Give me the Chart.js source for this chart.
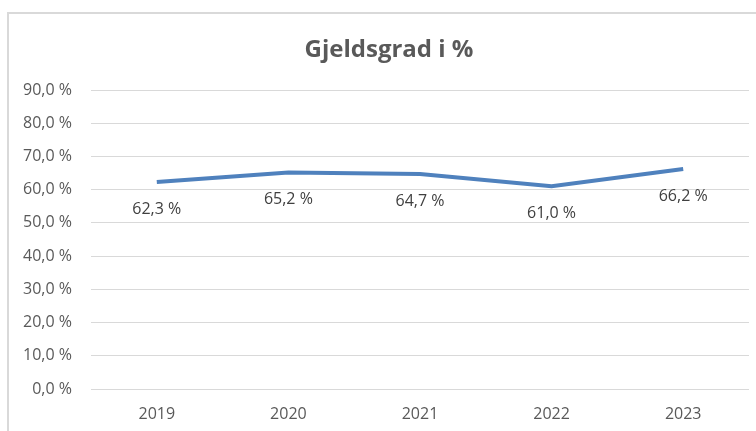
<!DOCTYPE html>
<html>
<head>
<meta charset="utf-8">
<script src="https://cdn.jsdelivr.net/npm/chart.js@4"></script>
<style>
  html, body { margin: 0; padding: 0; background: #fff; overflow: hidden; }
  #frame {
    position: absolute; left: 7px; top: 12px;
    width: 800px; height: 500px;
    border: 2px solid #d9d9d9; box-sizing: border-box;
  }
  #wrap { position: absolute; left: 0; top: 0; width: 764px; height: 431px; }
</style>
</head>
<body>
<div id="frame"></div>
<div id="wrap"><canvas id="debtChart" width="764" height="431"></canvas></div>
<script>
// Chart data
const years = ['2019', '2020', '2021', '2022', '2023'];
const debtRatio = [62.3, 65.2, 64.7, 61.0, 66.2];
const yTicks = [0, 10, 20, 30, 40, 50, 60, 70, 80, 90];
const chartTitle = 'Gjeldsgrad i %';

const fmt = v => v.toFixed(1).replace('.', ',') + '\u00a0%';

// Excel-style labels under each point + title centred on the original frame
const valueLabels = {
  id: 'valueLabels',
  afterDatasetsDraw(chart) {
    const ctx = chart.ctx;
    const meta = chart.getDatasetMeta(0);
    ctx.save();
    ctx.font = '16px "Open Sans"';
    ctx.fillStyle = '#404040';
    ctx.textAlign = 'center';
    ctx.textBaseline = 'middle';
    meta.data.forEach((pt, i) => {
      ctx.fillText(fmt(debtRatio[i]), pt.x, pt.y + 27);
    });
    ctx.font = 'bold 24px "Open Sans"';
    ctx.fillStyle = '#595959';
    ctx.textBaseline = 'alphabetic';
    ctx.fillText(chartTitle, 389, 57);
    ctx.restore();
  }
};

const ctx = document.getElementById('debtChart').getContext('2d');
new Chart(ctx, {
  type: 'line',
  data: {
    labels: years,
    datasets: [{
      data: debtRatio,
      borderColor: '#4f81bd',
      borderWidth: 4,
      pointRadius: 0,
      tension: 0,
      fill: false
    }]
  },
  options: {
    responsive: false,
    animation: false,
    layout: { padding: { left: 0, right: 15, top: 90, bottom: 0 } },
    plugins: {
      legend: { display: false },
      tooltip: { enabled: false },
      title: { display: false }
    },
    scales: {
      x: {
        offset: true,
        grid: { display: false, drawTicks: false },
        border: { display: false },
        ticks: { color: '#595959', font: { family: '"Open Sans"', size: 16 }, padding: 16 },
        afterFit(scale) { scale.height = 42; }
      },
      y: {
        min: 0,
        max: 90,
        afterBuildTicks(scale) { scale.ticks = yTicks.map(v => ({ value: v })); },
        grid: { color: '#d9d9d9', lineWidth: 1, drawTicks: false },
        border: { display: false },
        ticks: {
          color: '#595959',
          font: { family: '"Open Sans"', size: 16 },
          padding: 19,
          callback: v => fmt(v)
        },
        afterFit(scale) { scale.width = 91; }
      }
    }
  },
  plugins: [valueLabels]
});
</script>
</body>
</html>
